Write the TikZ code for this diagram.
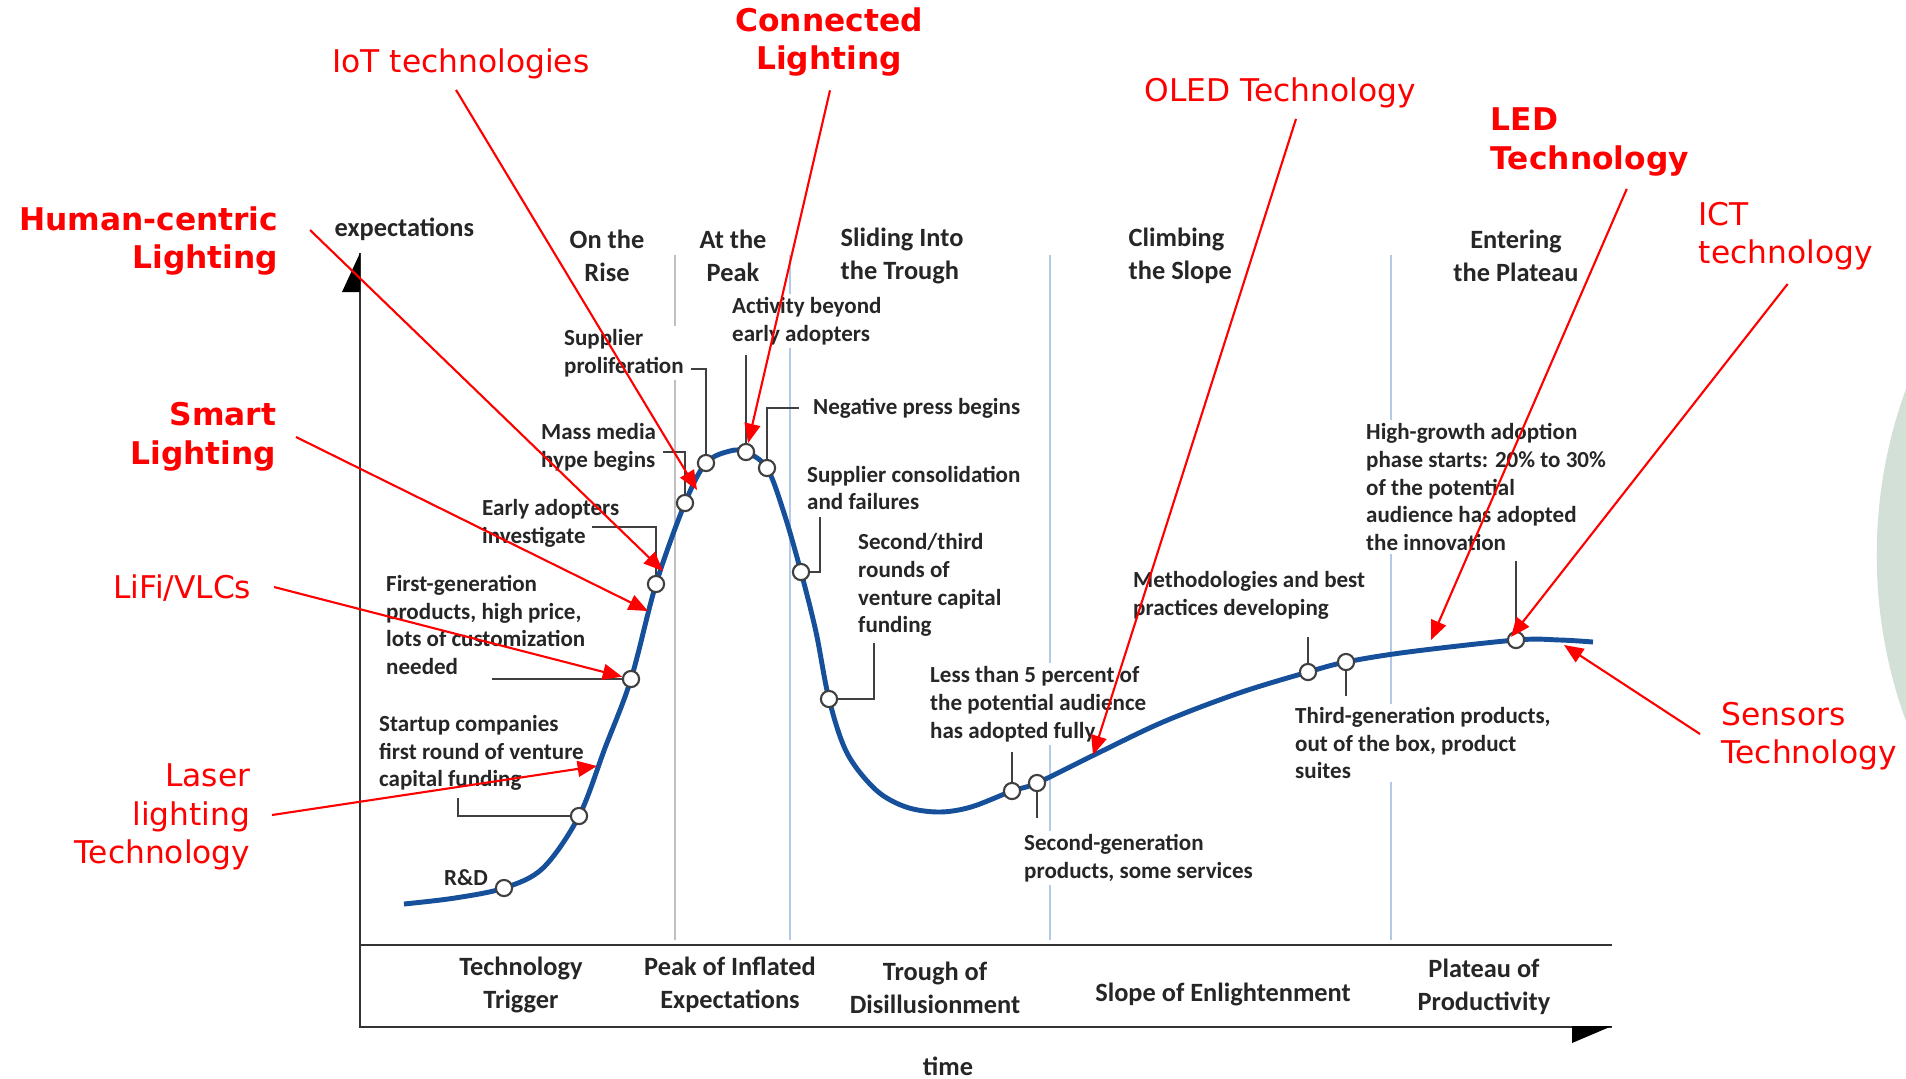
\documentclass[tikz,border=0pt]{standalone}
\usepackage{fontspec}
\setmainfont{Carlito}
\newfontfamily\labelfont{DejaVu Sans}
\usepackage{xcolor}
\usepackage{tikz}
\usetikzlibrary{arrows.meta, calc}
\definecolor{hypeblue}{RGB}{22,80,155}
\definecolor{gridblue}{RGB}{180,200,232}
\definecolor{gridgray}{RGB}{192,192,192}
\definecolor{leadgray}{RGB}{64,64,64}
\definecolor{bggreen}{RGB}{210,224,216}

\begin{document}
\begin{tikzpicture}[
    x=0.01cm, y=-0.01cm,
    tech/.style={
        font={\labelfont\fontsize{8.9}{11}\selectfont},
        text=red,
        inner sep=2pt,
        align=right
    },
    techbold/.style={
        tech,
        font={\labelfont\bfseries\fontsize{8.9}{11}\selectfont}
    },
    callout/.style={
        font={\bfseries\fontsize{6.55}{7.9}\selectfont},
        text=black!85,
        align=left,
        fill=white,
        inner sep=1pt,
        anchor=west
    },
    phase/.style={
        font={\bfseries\fontsize{7.5}{9.3}\selectfont},
        text=black!85,
        align=center,
        inner sep=0pt
    },
    dot/.style={
        circle,
        draw=leadgray, line width=0.6pt,
        fill=white,
        minimum size=4.6pt, inner sep=0pt
    },
    leader/.style={leadgray, line width=0.6pt},
    gridline/.style={line width=0.5pt},
    axisline/.style={black!80, line width=0.8pt},
    hype/.style={hypeblue, line width=1.4pt},
    redarrow/.style={red, line width=0.6pt, -{Triangle[length=5.5pt, width=4.5pt]}}
]

\useasboundingbox (0,0) rectangle (1906,1078);

\begin{scope}
\clip (0,0) rectangle (1906,1078);
\fill[bggreen] (2361,555) circle (4.84cm);
\end{scope}

\draw[gridline, gridgray] (675,255) -- (675,940);
\draw[gridline, gridblue] (790,255) -- (790,940);
\draw[gridline, gridblue] (1050,255) -- (1050,940);
\draw[gridline, gridblue] (1391,255) -- (1391,940);

\draw[axisline] (360,253) -- (360,1027) -- (1612,1027);
\draw[axisline] (360,945) -- (1612,945);
\fill (360,253) -- (342,292) -- (360,292) -- cycle;
\fill (1612,1026) -- (1572,1026) -- (1572,1043) -- cycle;

\node[phase, anchor=west, align=left] (expect) at (334,229) {expectations};
\node[phase] (rise) at (607,256) {On the\\Rise};
\node[phase] (peak) at (733,256) {At the\\Peak};
\node[phase, anchor=west, align=left] (sliding) at (840,256) {Sliding Into\\the Trough};
\node[phase, anchor=west, align=left] (climbing) at (1128,256) {Climbing\\the Slope};
\node[phase] (entering) at (1516,256) {Entering\\the Plateau};

\node[phase] (trigger) at (521,985) {Technology\\Trigger};
\node[phase] (inflated) at (730,985) {Peak of Inflated\\Expectations};
\node[phase] (trough) at (935,988) {Trough of\\Disillusionment};
\node[phase] (slope) at (1223,994) {Slope of Enlightenment};
\node[phase] (plateau) at (1484,987) {Plateau of\\Productivity};
\node[phase] (time) at (948,1066) {time};

\node[callout] (rd) at (440,878) {R\&D};
\node[callout] (startup) at (375,753) {Startup companies\\first round of venture\\capital funding};
\node[callout] (firstgen) at (382,625) {First-generation\\products, high price,\\lots of customization\\needed};
\node[callout] (early) at (478,523) {Early adopters\\investigate};
\node[callout] (media) at (537,447) {Mass media\\hype begins};
\node[callout] (prolif) at (560,353) {Supplier\\proliferation};
\node[callout] (activity) at (728,321) {Activity beyond\\early adopters};
\node[callout] (negative) at (809,408) {Negative press begins};
\node[callout] (consol) at (803,488) {Supplier consolidation\\and failures};
\node[callout] (rounds) at (854,585) {Second/third\\rounds of\\venture capital\\funding};
\node[callout] (fewer) at (926,704) {Less than 5 percent of\\the potential audience\\has adopted fully};
\node[callout] (secondgen) at (1020,858) {Second-generation\\products, some services};
\node[callout] (methods) at (1129,595) {Methodologies and best\\practices developing};
\node[callout] (thirdgen) at (1291,743) {Third-generation products,\\out of the box, product\\suites};
\node[callout] (highgrowth) at (1362,487) {High-growth adoption\\phase starts: 20\% to 30\%\\of the potential\\audience has adopted\\the innovation};

\coordinate (l2) at (458,798);
\coordinate (l3) at (492,679);
\coordinate (l4) at (592,527);
\coordinate (l5) at (663,452);
\coordinate (l6) at (691,369);
\coordinate (l7) at (746,355);
\coordinate (l8) at (799,408);
\coordinate (l9) at (820,517);
\coordinate (l10) at (874,643);
\coordinate (l11) at (1012,752);
\coordinate (l12) at (1037,818);
\coordinate (l13) at (1308,637);
\coordinate (l14) at (1346,696);
\coordinate (l15) at (1516,561);

\draw[hype] plot[smooth, tension=0.55] coordinates {
    (404,904) (455,898) (504,888) (543,868) (579,816) (605,748) (631,679)
    (656,584) (685,503) (706,463) (730,451) (746,452) (767,468) (784,513)
    (801,572) (816,632) (829,699) (847,753) (876,790) (906,807) (939,812)
    (971,807) (1012,791) (1037,783) (1094,755) (1163,722) (1239,693)
    (1308,672) (1346,662) (1408,652) (1516,640) (1560,640) (1593,642)};

\node[dot] (c1) at (504,888) {};
\node[dot] (c2) at (579,816) {};
\node[dot] (c3) at (631,679) {};
\node[dot] (c4) at (656,584) {};
\node[dot] (c5) at (685,503) {};
\node[dot] (c6) at (706,463) {};
\node[dot] (c7) at (746,452) {};
\node[dot] (c8) at (767,468) {};
\node[dot] (c9) at (801,572) {};
\node[dot] (c10) at (829,699) {};
\node[dot] (c11) at (1012,791) {};
\node[dot] (c12) at (1037,783) {};
\node[dot] (c13) at (1308,672) {};
\node[dot] (c14) at (1346,662) {};
\node[dot] (c15) at (1516,640) {};

\draw[leader] (c2.west) -| (l2);
\draw[leader] (c3.west) -- (l3);
\draw[leader] (l4) -| (c4.north);
\draw[leader] (l5) -| (c5.north);
\draw[leader] (l6) -| (c6.north);
\draw[leader] (l7) -- (c7.north);
\draw[leader] (l8) -| (c8.north);
\draw[leader] (l9) |- (c9.east);
\draw[leader] (l10) |- (c10.east);
\draw[leader] (l11) -- (c11.north);
\draw[leader] (c12.south) -- (l12);
\draw[leader] (l13) -- (c13.north);
\draw[leader] (c14.south) -- (l14);
\draw[leader] (l15) -- (c15.north);

\node[techbold, anchor=east] (human) at (286,241) {Human-centric\\Lighting};
\node[techbold, anchor=east] (smart) at (284,437) {Smart\\Lighting};
\node[techbold, align=center] (connected) at (829,42) {Connected\\Lighting};
\node[tech, align=center] (iot) at (461,64) {IoT technologies};
\node[tech, align=center] (oled) at (1280,93) {OLED Technology};
\node[techbold, anchor=west, align=left] (led) at (1483,142) {LED\\Technology};
\node[tech, anchor=west, align=left] (ict) at (1691,236) {ICT\\technology};
\node[tech, anchor=east] (lifi) at (259,588) {LiFi/VLCs};
\node[tech, anchor=east] (laser) at (258,817) {Laser\\lighting\\Technology};
\node[tech, anchor=west, align=left] (sensors) at (1714,736) {Sensors\\Technology};

\coordinate (iottip) at (697,490);
\coordinate (humantip) at (663,571);
\coordinate (smarttip) at (648,611);
\coordinate (lasertip) at (597,766);
\coordinate (oledtip) at (1093,755);
\coordinate (ledtip) at (1431,640);
\coordinate (icttip) at (1511,637);
\coordinate (sensortip) at (1564,645);

\draw[redarrow] ([shift={(-5,3)}]iot.south) -- (iottip);
\draw[redarrow] ([shift={(1,6)}]connected.south) -- (c7);
\draw[redarrow] ([shift={(24,-11)}]human.east) -- (humantip);
\draw[redarrow] ([shift={(12,0)}]smart.east) -- (smarttip);
\draw[redarrow] ([shift={(15,-1)}]lifi.east) -- (c3);
\draw[redarrow] ([shift={(14,-2)}]laser.east) -- (lasertip);
\draw[redarrow] ([shift={(16,3)}]oled.south) -- (oledtip);
\draw[redarrow] ([shift={(37,5)}]led.south) -- (ledtip);
\draw[redarrow] ([shift={(2,6)}]ict.south) -- (icttip);
\draw[redarrow] ([shift={(-14,-2)}]sensors.west) -- (sensortip);

\end{tikzpicture}
\end{document}
